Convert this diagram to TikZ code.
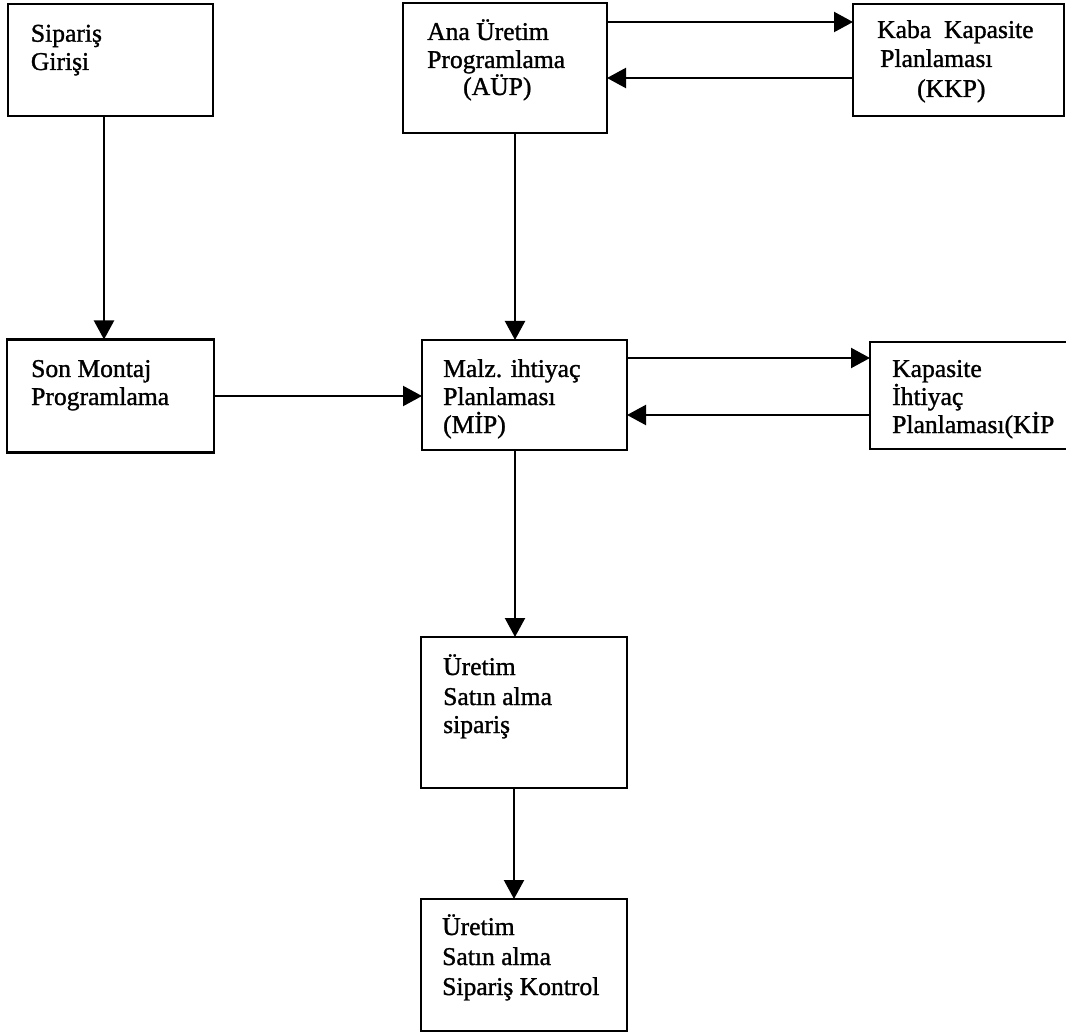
\documentclass[tikz,border=0pt]{standalone}
\usepackage{fontspec}
\setmainfont{Liberation Serif}
\newfontfamily\scanfont[FakeBold=1.2]{Liberation Serif}
\usetikzlibrary{arrows.meta}
\begin{document}
\begin{tikzpicture}[x=1pt,y=-1pt,
  box/.style={draw,line width=2.2pt,inner sep=0pt,outer sep=0pt},
  arr/.style={line width=2.2pt,-{Triangle[length=19pt,width=20pt]}},
  txt/.style={anchor=base west,inner sep=0pt,font=\scanfont\fontsize{25.6}{28}\selectfont}]
\useasboundingbox (0,0) rectangle (1066,1032);
% boxes
\node[box,minimum width=205pt,minimum height=112pt] (A) at (110.5,60) {};
\node[box,minimum width=204pt,minimum height=130pt] (B) at (505,68) {};
\node[box,minimum width=211pt,minimum height=112pt] (C) at (958.5,60) {};
\node[box,minimum width=207pt,minimum height=113pt] (D) at (110.5,396) {};
\node[box,minimum width=205pt,minimum height=110pt] (E) at (524.5,395) {};
\node[box,minimum width=210pt,minimum height=107pt] (F) at (975,395.5) {};
\node[box,minimum width=206pt,minimum height=151pt] (G) at (524,712.5) {};
\node[box,minimum width=206pt,minimum height=132pt] (H) at (524,965) {};
% texts
\node[txt] (a1) at (30.7,41.7) {Sipariş};
\node[txt] (a2) at (30.7,70) {Girişi};
\node[txt] (b1) at (427,40) {Ana Üretim};
\node[txt] (b2) at (427,68) {Programlama};
\node[txt] (b3) at (463,95) {(AÜP)};
\node[txt] (c1) at (877,38) {Kaba~~Kapasite};
\node[txt] (c2) at (880,67) {Planlaması};
\node[txt] (c3) at (917,97) {(KKP)};
\node[txt] (d1) at (31,377) {Son Montaj};
\node[txt] (d2) at (31,405) {Programlama};
\node[txt] (e1) at (443,377) {Malz. ihtiyaç};
\node[txt] (e2) at (443,405) {Planlaması};
\node[txt] (e3) at (443,433) {(MİP)};
\node[txt] (f1) at (892,377) {Kapasite};
\node[txt] (f2) at (892,405) {İhtiyaç};
\node[txt] (f3) at (892,433) {Planlaması(KİP};
\node[txt] (g1) at (443,675) {Üretim};
\node[txt] (g2) at (443,705) {Satın alma};
\node[txt] (g3) at (443,733) {sipariş};
\node[txt] (h1) at (442,935) {Üretim};
\node[txt] (h2) at (442,965) {Satın alma};
\node[txt] (h3) at (442,995) {Sipariş Kontrol};
% connectors
\draw[arr] ([xshift=-6.5pt]A.south) -- ([xshift=-6.5pt]A.south |- D.north);
\draw[arr] ([xshift=10pt]B.south) -- ([xshift=10pt]B.south |- E.north);
\draw[arr] ([yshift=46pt]B.east) -- ([yshift=46pt]B.east -| C.west);
\draw[arr] ([yshift=-18pt]C.west) -- ([yshift=-18pt]C.west -| B.east);
\draw[arr] (D.east) -- (D.east -| E.west);
\draw[arr] ([yshift=37pt]E.east) -- ([yshift=37pt]E.east -| F.west);
\draw[arr] ([yshift=-19.5pt]F.west) -- ([yshift=-19.5pt]F.west -| E.east);
\draw[arr] ([xshift=-9.5pt]E.south) -- ([xshift=-9.5pt]E.south |- G.north);
\draw[arr] ([xshift=-10pt]G.south) -- ([xshift=-10pt]G.south |- H.north);
\end{tikzpicture}
\end{document}
